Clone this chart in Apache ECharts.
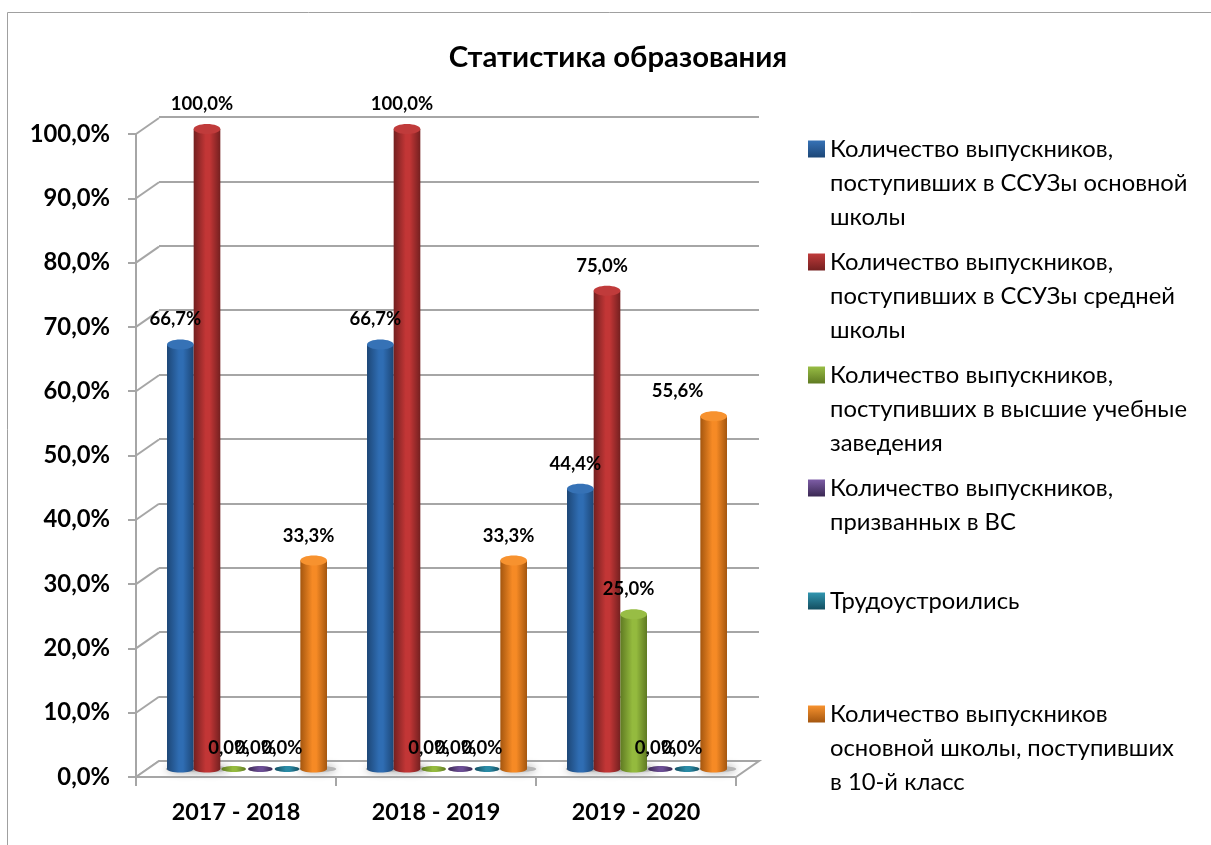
<!DOCTYPE html>
<html>
<head>
<meta charset="utf-8">
<style>html,body{margin:0;padding:0;background:#fff}#main{width:1211px;height:845px}</style>
<script src="https://cdn.jsdelivr.net/npm/echarts@6/dist/echarts.min.js"></script>
</head>
<body>
<div id="main"></div>
<script>
var categories = ['2017 - 2018', '2018 - 2019', '2019 - 2020'];
var names = [
    'Количество выпускников,\nпоступивших в ССУЗы основной\nшколы',
    'Количество выпускников,\nпоступивших в ССУЗы средней\nшколы',
    'Количество выпускников,\nпоступивших в высшие учебные\nзаведения',
    'Количество выпускников,\nпризванных в ВС',
    'Трудоустроились',
    'Количество выпускников\nосновной школы, поступивших\nв 10-й класс'
];
var ssuzBasic = [66.7, 66.7, 44.4];
var ssuzMiddle = [100, 100, 75];
var higher = [0, 0, 25];
var army = [0, 0, 0];
var employed = [0, 0, 0];
var tenthGrade = [33.3, 33.3, 55.6];
var ticks = [0, 10, 20, 30, 40, 50, 60, 70, 80, 90, 100];

// цвета цилиндров: край, середина, крышка
var colors = [
    ['#1d4777', '#2f6db3', '#3672b6'],
    ['#742020', '#c23636', '#c03b3b'],
    ['#5f7a22', '#94ba3e', '#98bd45'],
    ['#3a2852', '#6d4f96', '#7d5da6'],
    ['#134e60', '#2a8ba6', '#3196b0'],
    ['#a4560f', '#f68a25', '#f7922f']
];
var values = [ssuzBasic, ssuzMiddle, higher, army, employed, tenthGrade];
var FONT = 'Lato, "Noto Sans", sans-serif';
var depthX = 23, depthY = 16;
var floorLift = 7;

function pct(v){
    return v.toFixed(1).replace('.', ',') + '%';
}
function sideGrad(c){
    return new echarts.graphic.LinearGradient(0, 0, 1, 0, [
        {offset: 0, color: c[0]},
        {offset: 0.45, color: c[1]},
        {offset: 0.6, color: c[1]},
        {offset: 1, color: c[0]}
    ]);
}
function iconGrad(c){
    return new echarts.graphic.LinearGradient(0, 0, 0, 1, [
        {offset: 0, color: c[2]},
        {offset: 1, color: c[0]}
    ]);
}

//цилиндр одного значения
function barItem(i){
    return function(params, api){
        var cat = api.value(0), v = api.value(1);
        var base = api.coord([cat, 0]);
        var top = api.coord([cat, v]);
        var w = api.size([1, 0])[0] * 0.8 / 6;
        var cx = base[0] + (i - 2.5) * w;
        var floor = base[1] - floorLift;
        var children = [];
        var labelY;
        if(v > 0){
            children.push({type: 'ellipse', shape: {cx: cx + 4, cy: floor, rx: w * 0.7, ry: 3},
                style: {fill: '#b5b5b5', shadowBlur: 9, shadowColor: '#999'}, z2: 1});
            children.push({type: 'ellipse', shape: {cx: cx, cy: floor, rx: w / 2, ry: 3.5},
                style: {fill: sideGrad(colors[i])}, z2: 5});
            children.push({type: 'rect', shape: {x: cx - w / 2, y: top[1], width: w, height: floor - top[1]},
                style: {fill: sideGrad(colors[i])}, z2: 5});
            children.push({type: 'ellipse', shape: {cx: cx, cy: top[1], rx: w / 2, ry: 5},
                style: {fill: colors[i][2]}, z2: 6});
            labelY = top[1] - 25;
        }else{
            children.push({type: 'ellipse', shape: {cx: cx, cy: floor, rx: w / 2 - 1, ry: 3},
                style: {fill: sideGrad(colors[i])}, z2: 5});
            labelY = floor - 21;
        }
        // подпись 55,6% в оригинале сдвинута от столбика
        var shift = (v === 55.6) ? -36 : -5;
        children.push({type: 'text', z2: 100, style: {
            text: pct(v), x: cx + shift, y: labelY,
            align: 'center', verticalAlign: 'middle',
            font: 'bold 18.5px ' + FONT, fill: '#000'
        }});
        return {type: 'group', children: children};
    };
}

//боковая стенка и пол
function wallItem(params, api){
    var rect = params.coordSys;
    var y = api.coord([0, api.value(0)])[1];
    var children = [{type: 'line',
        shape: {x1: rect.x, y1: y, x2: rect.x + depthX, y2: y - depthY},
        style: {stroke: '#a6a6a6', lineWidth: 2}}];
    if(api.value(0) === 0){
        children.push({type: 'polygon',
            shape: {points: [[rect.x, y], [rect.x + depthX, y - depthY],
                [rect.x + rect.width + depthX, y - depthY], [rect.x + rect.width, y]]},
            style: {fill: '#fff', stroke: '#a6a6a6', lineWidth: 2}});
    }
    return {type: 'group', children: children};
}

var series = [{
    type: 'custom', xAxisIndex: 0, yAxisIndex: 0, silent: true, z: 1,
    data: ticks.map(function(t){ return [t]; }),
    renderItem: wallItem
}];
names.forEach(function(n, i){
    series.push({
        name: n, type: 'custom', xAxisIndex: 2, yAxisIndex: 2, silent: true, z: 3,
        itemStyle: {color: colors[i][1]},
        data: values[i].map(function(v, k){ return [k, v]; }),
        renderItem: barItem(i)
    });
});

var myChart = echarts.init(document.getElementById('main'));
myChart.setOption({
    animation: false,
    backgroundColor: '#fff',
    title: {
        text: 'Статистика образования', left: 613, top: 38, textAlign: 'center',
        textStyle: {fontFamily: FONT, fontSize: 29.3, fontWeight: 'bold', color: '#000'}
    },
    legend: {
        orient: 'vertical', left: 808, top: 64, padding: 0, itemGap: -57,
        itemWidth: 17, itemHeight: 17, selectedMode: false,
        data: names.map(function(n, i){
            return {name: n, icon: 'rect', itemStyle: {color: iconGrad(colors[i])}};
        }),
        formatter: function(n){
            var pad = 3 - n.split('\n').length;
            return '\n\n' + n + '\n'.repeat(pad);
        },
        textStyle: {fontFamily: FONT, fontSize: 23.8, lineHeight: 34, color: '#000'}
    },
    graphic: [{
        type: 'rect', silent: true, z: -1,
        shape: {x: 7.5, y: 12.5, width: 1400, height: 1000},
        style: {fill: 'none', stroke: '#a0a0a0', lineWidth: 1}
    }],
    grid: [
        {left: 136, top: 134, width: 600, height: 643},   // передние оси
        {left: 159, top: 117, width: 600, height: 644},   // задняя стенка
        {left: 147, top: 129, width: 600, height: 647}    // столбики
    ],
    xAxis: [
        {gridIndex: 0, type: 'category', data: categories,
            axisLine: {show: true, lineStyle: {color: '#a6a6a6', width: 2}},
            axisTick: {show: true, length: 9, alignWithLabel: false, lineStyle: {color: '#a6a6a6', width: 2}},
            axisLabel: {fontFamily: FONT, fontSize: 23.4, fontWeight: 'bold', color: '#000', margin: 24}},
        {gridIndex: 1, type: 'category', data: categories, show: false},
        {gridIndex: 2, type: 'category', data: categories, show: false}
    ],
    yAxis: [
        {gridIndex: 0, type: 'value', min: 0, max: 100, interval: 10,
            axisLine: {show: true, lineStyle: {color: '#a6a6a6', width: 2}},
            axisTick: {show: true, length: 8, lineStyle: {color: '#a6a6a6', width: 2}},
            splitLine: {show: false},
            axisLabel: {fontFamily: FONT, fontSize: 23.8, fontWeight: 'bold', color: '#000', margin: 26, formatter: pct}},
        {gridIndex: 1, type: 'value', min: 0, max: 100, interval: 10,
            axisLine: {show: false},
            axisTick: {show: false}, axisLabel: {show: false},
            splitLine: {show: true, lineStyle: {color: '#a6a6a6', width: 2}}},
        {gridIndex: 2, type: 'value', min: 0, max: 100, show: false, splitLine: {show: false}}
    ],
    series: series
});
</script>
</body>
</html>
